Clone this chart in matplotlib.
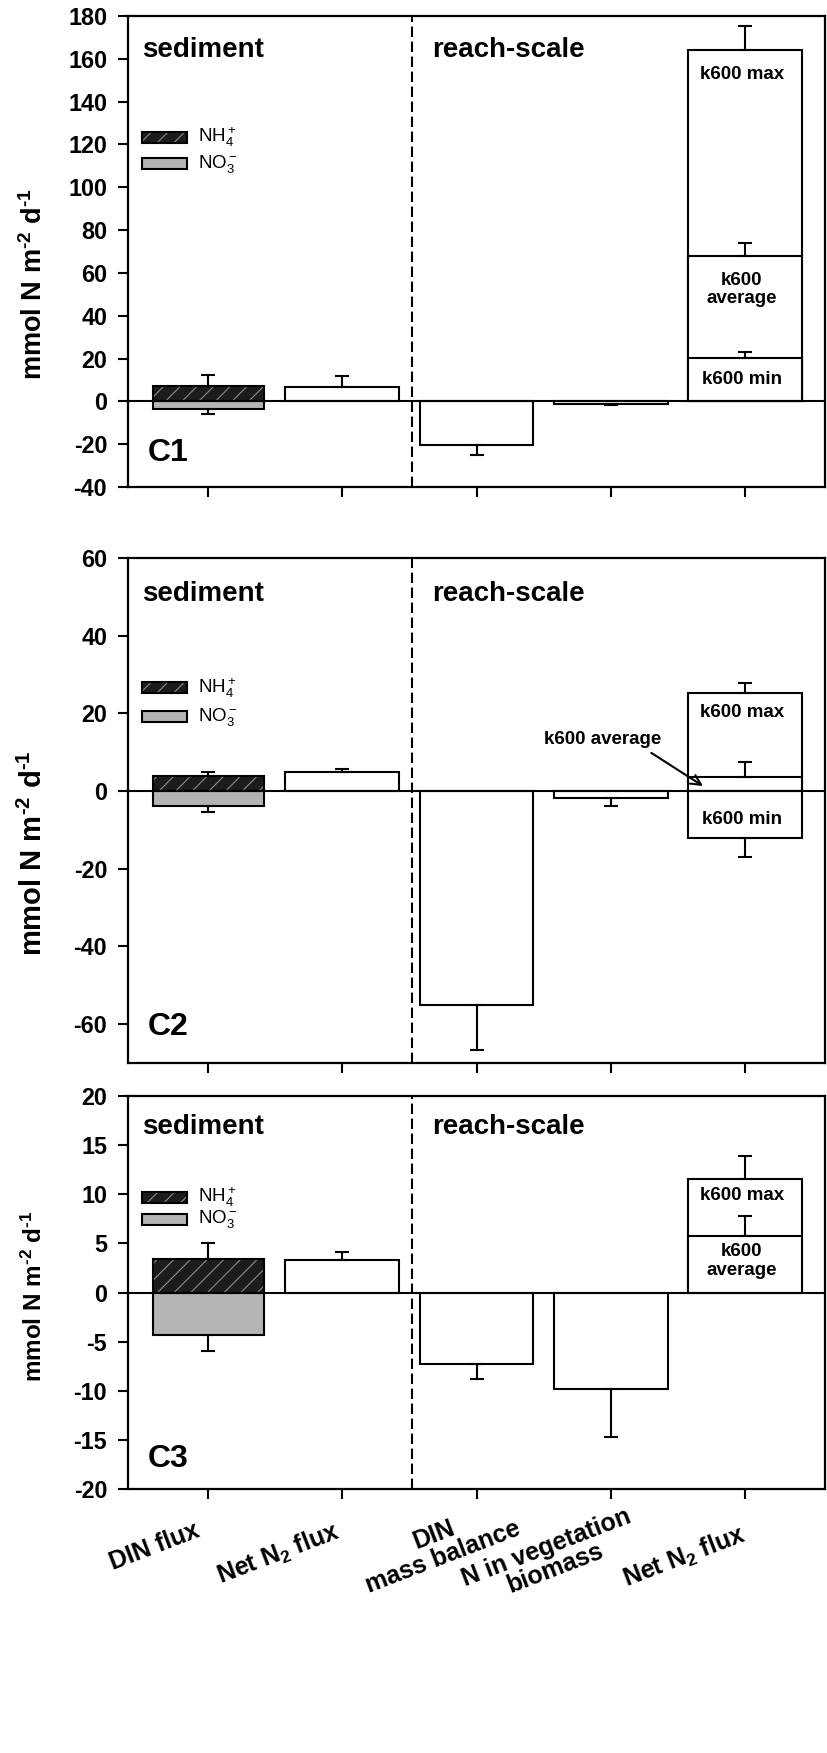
import matplotlib
matplotlib.use('Agg')
import matplotlib.pyplot as plt
import matplotlib.transforms as mtransforms
from matplotlib.patches import Rectangle

plt.rcParams.update({
    'font.family': ['Liberation Sans', 'DejaVu Sans'],
    'mathtext.fontset': 'custom',
    'mathtext.rm': 'Liberation Sans',
    'mathtext.bf': 'Liberation Sans:bold',
    'mathtext.it': 'Liberation Sans:italic',
    'mathtext.default': 'rm',
    'hatch.linewidth': 0.8,
    'axes.unicode_minus': False,
})

# ---------------- data ----------------
categories = ["DIN flux", "Net N$_\\mathbf{2}$ flux", "DIN\nmass balance",
              "N in vegetation\nbiomass", "Net N$_\\mathbf{2}$ flux"]
panels = ["C1", "C2", "C3"]

nh4 = [7.3, 3.8, 3.45]
nh4_err = [5.0, 1.2, 1.6]
no3 = [-3.4, -3.9, -4.35]
no3_err = [2.3, 1.6, 1.6]
sed_n2 = [6.8, 4.9, 3.3]
sed_n2_err = [5.0, 0.8, 0.85]
din_mass_balance = [-20.5, -55.0, -7.3]
din_mass_balance_err = [4.5, 11.7, 1.55]
veg_n = [-1.0, -1.9, -9.8]
veg_n_err = [0.8, 1.9, 4.9]
k600_max = [164.0, 25.3, 11.6]
k600_max_err = [11.5, 2.6, 2.3]
k600_avg = [67.9, 3.5, 5.8]
k600_avg_err = [6.1, 4.1, 1.95]
k600_min = [20.4, -12.1, None]
k600_min_err = [2.6, 4.9, None]

ylims = [(-40, 180), (-70, 60), (-20, 20)]
yticks = [[-40, -20, 0, 20, 40, 60, 80, 100, 120, 140, 160, 180],
          [-60, -40, -20, 0, 20, 40, 60],
          [-20, -15, -10, -5, 0, 5, 10, 15, 20]]

# k600 label positions (data y)
k600_labels = [
    [("k600 max", 152.7), ("k600\naverage", 52.3), ("k600 min", 10.3)],
    [("k600 max", 20.3), ("k600 min", -7.2)],
    [("k600 max", 9.9), ("k600\naverage", 3.2)],
]

xpos = [0, 1, 2, 3, 4]

# ---------------- layout ----------------
W, H = 827, 1753
fig = plt.figure(figsize=(W / 100, H / 100), dpi=100)

# axes boxes in pixels: (left, top, right, bottom)
boxes = [(128, 16, 825, 487), (128, 558, 825, 1063), (128, 1096, 825, 1489)]
ylabel_sizes = [19.5, 21, 17.5]
# x tick label block-centre offsets from tick (px right, px down)
xlabel_offsets = [(-54, 58), (-64, 65), (-38, 57), (-60, 69), (-60, 68)]

DARK = '#1c1c1c'
HATCHC = '#8c8c8c'
GRAY = '#b4b4b4'
LW = 1.5
BW = 0.85
CAP = 4.7
HY = '\u2010'  # hyphen for the unit exponents


def one_sided(ax, x, y, e):
    yerr = [[0], [e]] if y >= 0 else [[e], [0]]
    ax.errorbar([x], [y], yerr=yerr, fmt='none', ecolor='black',
                elinewidth=LW, capsize=CAP, capthick=LW, zorder=6)


def white_bar(ax, x, y, z=3):
    ax.bar([x], [y], width=BW, color='white', edgecolor='black',
           linewidth=LW, zorder=z)


for i, (l, t, r, b) in enumerate(boxes):
    ax = fig.add_axes([l / W, (H - b) / H, (r - l) / W, (b - t) / H])
    ax.set_xlim(-0.6, 4.6)
    ax.set_ylim(*ylims[i])
    ax.set_yticks(yticks[i])

    # sediment DIN flux: NH4+ (hatched, up) / NO3- (gray, down)
    ax.bar([xpos[0]], [nh4[i]], width=BW * 0.97, color=DARK, edgecolor=HATCHC,
           linewidth=0, hatch='//', zorder=3)
    ax.bar([xpos[0]], [nh4[i]], width=BW * 0.97, facecolor='none',
           edgecolor='black', linewidth=LW, zorder=4)
    ax.bar([xpos[0]], [no3[i]], width=BW * 0.97, color=GRAY,
           edgecolor='black', linewidth=LW, zorder=4)
    one_sided(ax, xpos[0], nh4[i], nh4_err[i])
    one_sided(ax, xpos[0], no3[i], no3_err[i])

    # sediment net N2
    white_bar(ax, xpos[1], sed_n2[i])
    one_sided(ax, xpos[1], sed_n2[i], sed_n2_err[i])

    # reach-scale
    white_bar(ax, xpos[2], din_mass_balance[i])
    one_sided(ax, xpos[2], din_mass_balance[i], din_mass_balance_err[i])
    white_bar(ax, xpos[3], veg_n[i])
    one_sided(ax, xpos[3], veg_n[i], veg_n_err[i])

    white_bar(ax, xpos[4], k600_max[i], z=3)
    one_sided(ax, xpos[4], k600_max[i], k600_max_err[i])
    white_bar(ax, xpos[4], k600_avg[i], z=3.2)
    one_sided(ax, xpos[4], k600_avg[i], k600_avg_err[i])
    if k600_min[i] is not None:
        white_bar(ax, xpos[4], k600_min[i], z=3.4)
        one_sided(ax, xpos[4], k600_min[i], k600_min_err[i])

    for txt, yy in k600_labels[i]:
        ax.text(3.98, yy, txt, ha='center', va='center', fontsize=13.5,
                fontweight='bold', linespacing=1.1, zorder=8)

    if i == 1:
        ax.annotate('k600 average', xy=(3.69, 1.3), xytext=(2.94, 13.3),
                    ha='center', va='center', fontsize=13.5, fontweight='bold',
                    arrowprops=dict(arrowstyle='->', lw=1.5, color='black',
                                    relpos=(0.85, 0.0), shrinkA=3, shrinkB=0,
                                    mutation_scale=18),
                    zorder=9)

    # zero line and divider
    ax.axhline(0, color='black', lw=1.5, zorder=5)
    ax.axvline(1.52, color='black', lw=1.5, linestyle=(0, (5, 2.2)), zorder=2)

    # section labels
    ax.text(0.02, 0.955, 'sediment', transform=ax.transAxes, ha='left',
            va='top', fontsize=20, fontweight='bold')
    ax.text(0.436, 0.955, 'reach-scale', transform=ax.transAxes, ha='left',
            va='top', fontsize=20, fontweight='bold')
    ax.text(0.028, 0.056, panels[i], transform=ax.transAxes, ha='left',
            va='baseline', fontsize=23, fontweight='bold')

    # legend (manual)
    hpx = b - t
    rh = 11 / hpx
    for yc, fc, hatch, lab in [(0.743, DARK, '//', 'NH$_4^+$'),
                               (0.686, GRAY, None, 'NO$_3^-$')]:
        if hatch:
            ax.add_patch(Rectangle((0.02, yc - rh / 2), 0.064, rh,
                                   transform=ax.transAxes, facecolor=fc,
                                   edgecolor=HATCHC, linewidth=0, hatch=hatch,
                                   zorder=7))
        ax.add_patch(Rectangle((0.02, yc - rh / 2), 0.064, rh,
                               transform=ax.transAxes,
                               facecolor='none' if hatch else fc,
                               edgecolor='black', linewidth=LW, zorder=7))
        ax.text(0.1, yc, lab, transform=ax.transAxes, ha='left', va='center',
                fontsize=13.5)

    # axes styling
    for s in ax.spines.values():
        s.set_linewidth(1.6)
    ax.tick_params(axis='both', direction='out', length=7.5, width=1.5,
                   top=False, right=False)
    ax.tick_params(axis='y', labelsize=16.8, pad=7.5)
    for lab in ax.get_yticklabels():
        lab.set_fontweight('bold')
    ax.set_ylabel('mmol N m$^{\\mathbf{' + HY + '2}}$ d$^{\\mathbf{' + HY + '1}}$',
                  fontsize=ylabel_sizes[i], fontweight='bold',
                  ha='left', va='baseline')
    ax.yaxis.set_label_coords(-0.1234, 107 / hpx)

    ax.set_xticks(xpos)
    ax.set_xticklabels([])
    if i == 2:
        base = mtransforms.blended_transform_factory(ax.transData, ax.transAxes)
        for x, lab, (dx, dy) in zip(xpos, categories, xlabel_offsets):
            tr = base + mtransforms.ScaledTranslation(dx / 100, -dy / 100,
                                                      fig.dpi_scale_trans)
            ax.text(x, 0, lab, transform=tr, rotation=21,
                    rotation_mode='anchor', ha='center', va='center',
                    multialignment='center', linespacing=0.95,
                    fontsize=18, fontweight='bold', clip_on=False)

fig.savefig('out.png', dpi=100)
